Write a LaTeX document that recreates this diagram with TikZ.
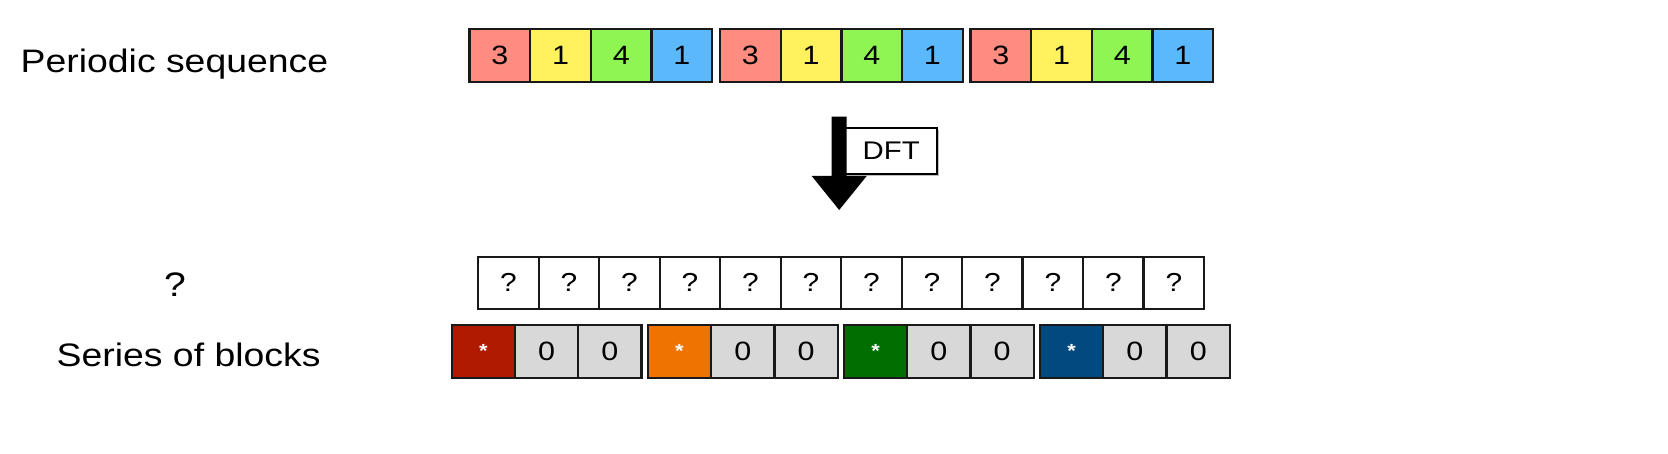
\documentclass[tikz,border=0pt]{standalone}
\usepackage{fontspec}
\setmainfont{Liberation Sans}[FakeStretch=1.15]
\usetikzlibrary{shadows}
\definecolor{csalmon}{HTML}{FF8C80}
\definecolor{cyellow}{HTML}{FFF25C}
\definecolor{cgreen}{HTML}{8EF552}
\definecolor{cblue}{HTML}{5BB8FA}
\definecolor{cred}{HTML}{B01A00}
\definecolor{corange}{HTML}{EE7300}
\definecolor{cdgreen}{HTML}{006E00}
\definecolor{cdblue}{HTML}{004A80}
\definecolor{cgray}{HTML}{D8D8D8}
\begin{document}
\begin{tikzpicture}[x=1pt,y=-1pt,
  cellbox/.style={draw=black!90, line width=2.3pt, inner sep=0pt, outer sep=0pt, minimum height=53pt},
  topcell/.style={cellbox, minimum width=60.7pt, font=\fontsize{26.5}{26.5}\selectfont},
  qcell/.style={cellbox, minimum width=60.5pt, minimum height=52.3pt, fill=white, font=\fontsize{26}{26}\selectfont},
  zcell/.style={cellbox, minimum width=63.3pt, fill=cgray, font=\fontsize{26.5}{26.5}\selectfont},
  scell/.style={cellbox, minimum width=63.3pt, text=white, font=\fontsize{19}{19}\selectfont\bfseries, text height=13.6pt, text depth=1pt},
  lbl/.style={inner sep=0pt, font=\fontsize{32.5}{32.5}\selectfont}
]
\useasboundingbox (0,0) rectangle (1668,454);
\fill[white] (0,0) rectangle (1668,454);

% periodic sequence
\foreach \g in {0,1,2} {
  \foreach \c/\d [count=\i from 0] in {csalmon/3,cyellow/1,cgreen/4,cblue/1} {
    \node[topcell, fill=\c] (p\g\i) at ({469.5+250.5*\g+(\i+0.5)*60.7}, 55.8) {\d};
  }
}

% question row
\foreach \i in {0,...,11} {
  \node[qcell] (q\i) at ({478.3+(\i+0.5)*60.48}, 282.9) {?};
}

% series of blocks
\foreach \g/\c in {0/cred,1/corange,2/cdgreen,3/cdblue} {
  \node[scell, fill=\c] (sa\g) at ({451.7+196.1*\g+31.65}, 351.3) {*};
  \node[zcell] (sb\g) at ({451.7+196.1*\g+94.95}, 351.3) {0};
  \node[zcell] (sc\g) at ({451.7+196.1*\g+158.25}, 351.3) {0};
}

% DFT box and arrow
\node[draw=black, line width=1.8pt, fill=white, minimum width=92.3pt, minimum height=45.7pt, inner sep=0pt,
      drop shadow={shadow xshift=2pt, shadow yshift=-2pt, opacity=0.25, fill=black},
      font=\fontsize{25.5}{25.5}\selectfont] (dft) at (891.2,151.2) {DFT};
\fill[black] (831.7,116.7) -- (846.7,116.7) -- (846.7,176) -- (866.7,176) -- (839.2,210)
  -- (811.7,176) -- (831.7,176) -- cycle;

% labels
\node[lbl, anchor=base west] (ps) at (20.5,72.7) {Periodic sequence};
\node[lbl, anchor=base, font=\fontsize{34}{34}\selectfont] (qm) at (175,296.7) {?};
\node[lbl, anchor=base west] (sb) at (56.5,366.7) {Series of blocks};
\end{tikzpicture}
\end{document}
